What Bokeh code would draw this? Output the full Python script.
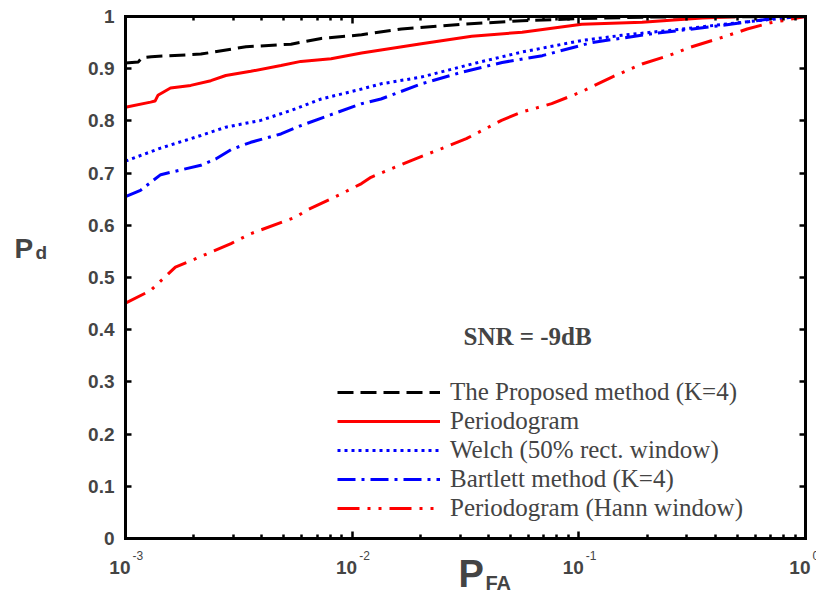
from bokeh.plotting import figure
from bokeh.models import (LogAxis, LinearAxis, FixedTicker, Legend, LegendItem,
                          Label, CustomJSTickFormatter, Range1d)
from bokeh.embed import file_html
from bokeh.resources import INLINE

# ---------------- data ----------------
proposed_pfa = [0.001, 0.00114, 0.00118, 0.0013, 0.00215, 0.0034, 0.00537, 0.0073,
                0.011, 0.0165, 0.0303, 0.0562, 0.103, 0.209, 1.0]
proposed_pd = [0.911, 0.913, 0.921, 0.923, 0.928, 0.942, 0.947, 0.958,
               0.965, 0.976, 0.985, 0.992, 0.996, 0.999, 1.0]

period_pfa = [0.001, 0.00129, 0.00135, 0.00139, 0.00158, 0.00194, 0.00238, 0.00277,
              0.00357, 0.00485, 0.00594, 0.00807, 0.011, 0.0134, 0.0202, 0.0337,
              0.0562, 0.103, 0.19, 0.35, 0.52, 1.0]
period_pd = [0.826, 0.836, 0.838, 0.849, 0.863, 0.868, 0.877, 0.887,
             0.895, 0.906, 0.914, 0.919, 0.930, 0.936, 0.948, 0.962,
             0.970, 0.985, 0.989, 0.997, 1.0, 1.0]

welch_pfa = [0.001, 0.00143, 0.00215, 0.00277, 0.00395, 0.00537, 0.0073, 0.011,
             0.0134, 0.0202, 0.0337, 0.0562, 0.103, 0.155, 0.286, 0.526, 0.85, 1.0]
welch_pd = [0.723, 0.748, 0.772, 0.788, 0.801, 0.820, 0.842, 0.861,
            0.871, 0.884, 0.909, 0.932, 0.954, 0.964, 0.976, 0.989, 0.998, 1.0]

bartlett_pfa = [0.001, 0.001164, 0.00129, 0.00143, 0.00215, 0.0025, 0.00292, 0.00357,
                0.00485, 0.00594, 0.00807, 0.011, 0.0134, 0.0202, 0.0303, 0.0459,
                0.069, 0.103, 0.114, 0.21, 0.43, 0.71, 1.0]
bartlett_pd = [0.655, 0.667, 0.682, 0.697, 0.715, 0.727, 0.745, 0.759,
               0.775, 0.791, 0.812, 0.833, 0.842, 0.871, 0.893, 0.912,
               0.925, 0.945, 0.950, 0.967, 0.983, 0.996, 1.0]

hann_pfa = [0.001, 0.00129, 0.00166, 0.00204, 0.00292, 0.00357, 0.00565, 0.00625,
            0.00893, 0.011, 0.0121, 0.0182, 0.0248, 0.0319, 0.0456, 0.056, 0.0759,
            0.103, 0.14, 0.19, 0.249, 0.31, 0.443, 0.553, 0.7, 0.794, 1.0]
hann_pd = [0.451, 0.475, 0.520, 0.536, 0.565, 0.584, 0.616, 0.628,
           0.660, 0.680, 0.692, 0.724, 0.747, 0.766, 0.801, 0.817, 0.833,
           0.856, 0.884, 0.909, 0.925, 0.941, 0.962, 0.976, 0.988, 0.992, 1.0]

series_labels = ["The Proposed method (K=4)", "Periodogram", "Welch (50% rect. window)",
                 "Bartlett method (K=4)", "Periodogram (Hann window)"]

x_major = [0.001, 0.01, 0.1, 1.0]
x_major_exp = ["-3", "-2", "-1", "0"]
x_minor = [m * d for d in [0.001, 0.01, 0.1] for m in range(2, 10)]
y_major = [0.0, 0.1, 0.2, 0.3, 0.4, 0.5, 0.6, 0.7, 0.8, 0.9, 1.0]

# ---------------- layout constants (pixels) ----------------
W, H = 816, 592
BOX_L, BOX_R, BOX_T, BOX_B = 125, 805, 16, 538
PX_DEC = (BOX_R - BOX_L) / 3.0          # pixels per decade
PX_UNIT = BOX_B - BOX_T                 # pixels per unit of Pd

# the frame covers the whole canvas; the axes box is drawn by fixed-location axes
x_lo = 10 ** (-3 - BOX_L / PX_DEC)
x_hi = 10 ** ((W - BOX_R) / PX_DEC)
y_lo = -(H - BOX_B) / PX_UNIT
y_hi = 1 + BOX_T / PX_UNIT

p = figure(width=W, height=H, x_axis_type="log",
           x_range=Range1d(x_lo, x_hi), y_range=Range1d(y_lo, y_hi),
           output_backend="svg", toolbar_location=None,
           min_border=0, min_border_left=0, min_border_right=0,
           min_border_top=0, min_border_bottom=0)
p.xgrid.visible = False
p.ygrid.visible = False
p.outline_line_color = None
p.background_fill_color = "white"
p.border_fill_color = "white"

blank = CustomJSTickFormatter(code="return ''")
yfmt = CustomJSTickFormatter(code="return (Math.round(tick*10)/10).toString()")


def style_x(ax, loc):
    ax.fixed_location = loc
    ax.bounds = (0.001, 1.0)
    ax.ticker = FixedTicker(ticks=x_major, minor_ticks=x_minor)
    ax.axis_line_width = 3
    ax.axis_line_cap = "square"
    ax.major_tick_in = 7
    ax.major_tick_out = 0
    ax.minor_tick_in = 4
    ax.minor_tick_out = 0
    ax.major_tick_line_width = 2.5
    ax.minor_tick_line_width = 2.5
    ax.formatter = blank
    ax.major_label_standoff = 0


def style_y(ax, loc):
    ax.fixed_location = loc
    ax.bounds = (0.0, 1.0)
    ax.ticker = FixedTicker(ticks=y_major)
    ax.axis_line_width = 3
    ax.axis_line_cap = "square"
    ax.major_tick_in = 6
    ax.major_tick_out = 0
    ax.minor_tick_line_color = None
    ax.major_tick_line_width = 2.5


style_x(p.xaxis[0], 0.0)
style_y(p.yaxis[0], 0.001)
p.yaxis[0].formatter = yfmt
p.yaxis[0].major_label_standoff = 11
p.yaxis[0].major_label_text_font = "Liberation Sans"
p.yaxis[0].major_label_text_font_style = "bold"
p.yaxis[0].major_label_text_font_size = "19px"

top = LogAxis()
style_x(top, 1.0)
p.add_layout(top, "above")
right = LinearAxis()
style_y(right, 1.0)
right.formatter = blank
right.major_label_standoff = 0
p.add_layout(right, "right")

# ---------------- lines ----------------
r1 = p.line(proposed_pfa, proposed_pd, line_color="black", line_width=3, line_dash="16 7")
r2 = p.line(period_pfa, period_pd, line_color="red", line_width=3)
r3 = p.line(welch_pfa, welch_pd, line_color="blue", line_width=3, line_dash="3 4")
r4 = p.line(bartlett_pfa, bartlett_pd, line_color="blue", line_width=3, line_dash="18 6 3 6")
r5 = p.line(hann_pfa, hann_pd, line_color="red", line_width=3, line_dash="22 8 3 8 3 8")

legend = Legend(items=[LegendItem(label=l, renderers=[r]) for l, r in
                       zip(series_labels, [r1, r2, r3, r4, r5])],
                location=(337, 70), padding=0, margin=0, spacing=1,
                glyph_width=103, glyph_height=20, label_height=20, label_standoff=10,
                border_line_alpha=0, background_fill_alpha=0,
                label_text_font="Liberation Serif", label_text_font_size="25px")
p.add_layout(legend, "center")

# ---------------- texts (screen units: from the canvas bottom-left) ----------------
for t, e in zip(x_major, x_major_exp):
    p.add_layout(Label(x=t, y=H - 567, x_units="data", y_units="screen", x_offset=5,
                       text="10", text_align="right", text_baseline="alphabetic",
                       text_font="Liberation Sans", text_font_style="bold",
                       text_font_size="19px"))
    p.add_layout(Label(x=t, y=H - 555, x_units="data", y_units="screen", x_offset=7,
                       text=e, text_align="left", text_baseline="alphabetic",
                       text_font="Liberation Sans", text_font_size="12px"))

p.add_layout(Label(x=14, y=H - 248, x_units="screen", y_units="screen", text="P",
                   text_font="Liberation Sans", text_font_style="bold",
                   text_font_size="28px", text_baseline="alphabetic"))
p.add_layout(Label(x=35, y=H - 252, x_units="screen", y_units="screen", text="d",
                   text_font="Liberation Sans", text_font_style="bold",
                   text_font_size="19px", text_baseline="alphabetic"))
p.add_layout(Label(x=458, y=H - 573, x_units="screen", y_units="screen", text="P",
                   text_font="Liberation Sans", text_font_style="bold",
                   text_font_size="38px", text_baseline="alphabetic"))
p.add_layout(Label(x=485, y=H - 582, x_units="screen", y_units="screen", text="FA",
                   text_font="Liberation Sans", text_font_style="bold",
                   text_font_size="20px", text_baseline="alphabetic"))
p.add_layout(Label(x=463, y=H - 336, x_units="screen", y_units="screen", text="SNR = -9dB",
                   text_font="Liberation Serif", text_font_style="bold",
                   text_font_size="25px", text_baseline="alphabetic"))

open("out.html", "w").write(file_html(p, INLINE))
